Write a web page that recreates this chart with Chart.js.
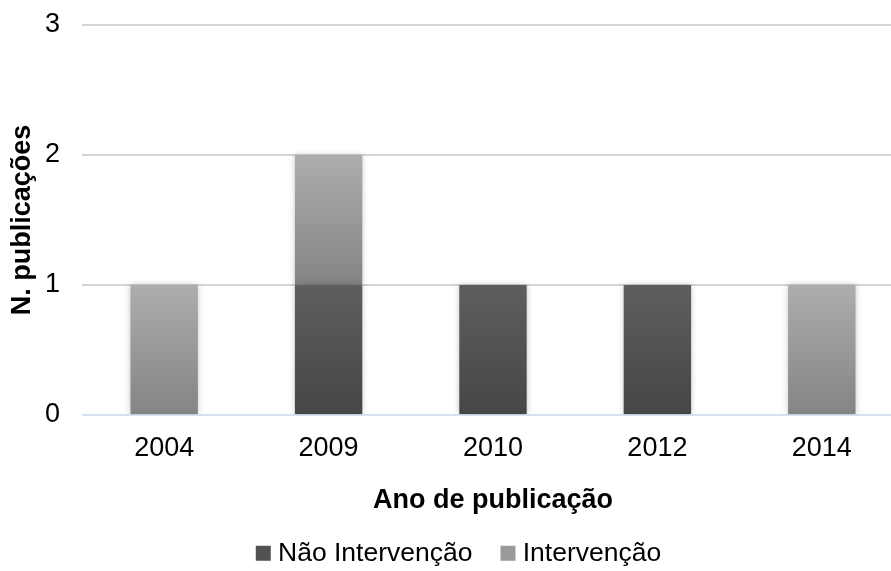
<!DOCTYPE html>
<html>
<head>
<meta charset="utf-8">
<script src="https://cdn.jsdelivr.net/npm/chart.js@4/dist/chart.umd.min.js"></script>
<style>
    html, body { margin: 0; padding: 0; background: #fff; overflow: hidden; }
    #wrap { width: 914px; height: 571px; position: relative; }
</style>
</head>
<body>
<div id="wrap"><canvas id="chart"></canvas></div>
<script>
// Data
const categories = ['2004', '2009', '2010', '2012', '2014'];
const naoIntervencao = [0, 1, 1, 1, 0];
const intervencao = [1, 1, 0, 0, 1];
const yTicks = [0, 1, 2, 3];

// Colours (top / bottom of each gradient)
const colors = {
    nao: { top: '#5e5e5e', bottom: '#464646', legend: '#525252' },
    interv: { top: '#adadad', bottom: '#848484', legend: '#9a9a9a' }
};

const fontFamily = "'Liberation Sans', Arial, sans-serif";
const fontSize = 27;

function barGradient(context, base, values, col) {
    const chart = context.chart;
    const yScale = chart.scales.y;
    if (!chart.chartArea || !yScale || context.type !== 'data') return col.legend;
    const i = context.dataIndex;
    const start = base ? base[i] : 0;
    const end = start + values[i];
    const yTop = yScale.getPixelForValue(end);
    const yBottom = yScale.getPixelForValue(start);
    if (yTop === yBottom) return col.legend;
    const g = chart.ctx.createLinearGradient(0, yTop, 0, yBottom);
    g.addColorStop(0, col.top);
    g.addColorStop(1, col.bottom);
    return g;
}

// Soft shadow around the bars, and a shorter legend box
const layoutPlugin = {
    id: 'layoutPlugin',
    beforeInit(chart) {
        const origFit = chart.legend.fit;
        chart.legend.fit = function () {
            origFit.call(this);
            this.height = 65;
        };
    },
    beforeDatasetsDraw(chart) {
        const ctx = chart.ctx;
        ctx.save();
        ctx.shadowColor = 'rgba(0, 0, 0, 0.22)';
        ctx.shadowBlur = 6;
    },
    afterDatasetsDraw(chart) {
        chart.ctx.restore();
    }
};

new Chart(document.getElementById('chart'), {
    type: 'bar',
    data: {
        labels: categories,
        datasets: [
            {
                label: 'Não Intervenção',
                data: naoIntervencao,
                backgroundColor: ctx => barGradient(ctx, null, naoIntervencao, colors.nao),
                borderWidth: 0
            },
            {
                label: 'Intervenção',
                data: intervencao,
                backgroundColor: ctx => barGradient(ctx, naoIntervencao, intervencao, colors.interv),
                borderWidth: 0
            }
        ]
    },
    options: {
        responsive: true,
        maintainAspectRatio: false,
        animation: false,
        datasets: {
            bar: { barPercentage: 0.41, categoryPercentage: 1 }
        },
        layout: {
            padding: { top: 25, right: 10, bottom: 0, left: 19 }
        },
        plugins: {
            tooltip: { enabled: false },
            legend: {
                position: 'bottom',
                labels: {
                    usePointStyle: true,
                    pointStyle: 'rect',
                    boxWidth: 3,
                    boxHeight: 15,
                    padding: 34,
                    color: '#000',
                    font: { family: fontFamily, size: 26.5 },
                    generateLabels(chart) {
                        const items = Chart.defaults.plugins.legend.labels.generateLabels(chart);
                        items[0].fillStyle = colors.nao.legend;
                        items[1].fillStyle = colors.interv.legend;
                        items.forEach(it => { it.lineWidth = 0; it.strokeStyle = 'rgba(0,0,0,0)'; });
                        return items;
                    }
                }
            }
        },
        scales: {
            x: {
                stacked: true,
                afterFit(scale) { scale.height = 91; },
                grid: { display: false, drawTicks: false },
                border: { display: false },
                ticks: {
                    padding: 17,
                    color: '#000',
                    font: { family: fontFamily, size: fontSize }
                },
                title: {
                    display: true,
                    text: 'Ano de publicação',
                    color: '#000',
                    font: { family: fontFamily, size: fontSize, weight: 'bold' },
                    padding: { top: 10, bottom: -11 }
                }
            },
            y: {
                stacked: true,
                min: yTicks[0],
                max: yTicks[yTicks.length - 1],
                afterFit(scale) {
                    scale.width = 63;
                    scale.paddingTop = 0;
                    scale.paddingBottom = 0;
                },
                grid: {
                    drawTicks: false,
                    lineWidth: 2,
                    color: ctx => ctx.tick && ctx.tick.value === 0 ? '#d7e1f2' : '#d4d4d4'
                },
                border: { display: false },
                ticks: {
                    stepSize: 1,
                    padding: 22,
                    color: '#000',
                    font: { family: fontFamily, size: fontSize }
                },
                afterBuildTicks(scale) {
                    scale.ticks = yTicks.map(v => ({ value: v }));
                },
                title: {
                    display: true,
                    text: 'N. publicações',
                    color: '#000',
                    font: { family: fontFamily, size: fontSize, weight: 'bold' },
                    padding: { top: -13, bottom: 0 }
                }
            }
        }
    },
    plugins: [layoutPlugin]
});
</script>
</body>
</html>
